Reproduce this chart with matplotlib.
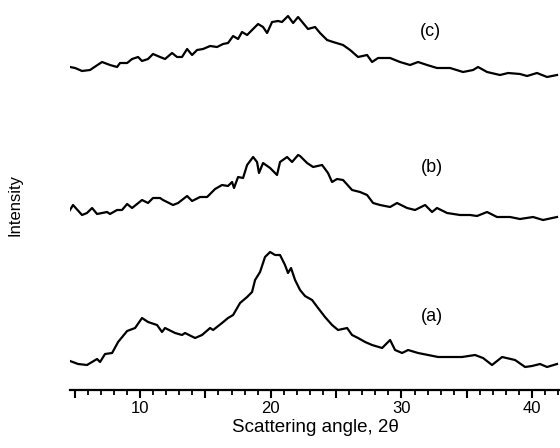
import matplotlib
matplotlib.use('Agg')
import matplotlib.pyplot as plt
from matplotlib.ticker import MultipleLocator

# scattering angle (2 theta) and intensity (arbitrary, curves already offset)
angle_a = [4.64, 5.26, 5.94, 6.71, 6.94, 7.32, 7.86, 8.32, 9.01, 9.62, 10.15, 10.61,
           11.30, 11.68, 11.91, 12.68, 13.21, 13.44, 14.21, 14.74, 15.36, 15.59, 16.27,
           16.73, 17.12, 17.65, 18.19, 18.57, 18.80, 19.18, 19.56, 19.95, 20.33, 20.71,
           21.09, 21.32, 21.55, 21.86, 22.24, 22.62, 23.16, 23.62, 24.15, 24.69, 25.15,
           25.84, 26.22, 26.68, 27.22, 27.75, 28.52, 29.13, 29.51, 30.05, 30.51, 31.27,
           32.04, 32.80, 33.87, 34.64, 35.63, 36.24, 36.93, 37.70, 38.69, 39.46, 39.99,
           40.60, 41.14, 41.90]
int_a = [29, 26, 25, 31, 28, 36, 37, 48, 59, 62, 72, 68,
         65, 58, 62, 57, 55, 57, 52, 55, 62, 60, 67,
         72, 75, 87, 93, 98, 110, 118, 133, 138, 135, 135,
         125, 117, 122, 110, 100, 94, 90, 82, 73, 65, 60,
         62, 55, 52, 48, 45, 42, 50, 40, 37, 40, 37,
         35, 33, 33, 33, 35, 32, 25, 33, 30, 23, 24,
         26, 23, 26]

angle_b = [4.64, 4.87, 5.56, 5.94, 6.33, 6.71, 7.48, 7.70, 8.24, 8.62, 9.01, 9.39,
           10.15, 10.61, 10.99, 11.53, 11.76, 12.52, 12.91, 13.60, 13.98, 14.59, 15.13,
           15.74, 16.27, 16.73, 17.04, 17.19, 17.50, 17.88, 18.19, 18.65, 18.95, 19.10,
           19.41, 19.95, 20.48, 20.71, 21.25, 21.63, 22.09, 22.24, 22.78, 23.24, 23.93,
           24.38, 24.69, 25.07, 25.53, 26.22, 26.83, 27.37, 27.83, 28.36, 29.13, 29.66,
           30.43, 31.04, 31.81, 32.34, 32.72, 33.49, 34.48, 35.25, 35.78, 36.55, 37.31,
           38.31, 39.07, 40.07, 40.83, 41.90]
int_b = [180, 185, 175, 177, 182, 176, 178, 176, 180, 180, 186, 182,
         190, 187, 192, 192, 190, 185, 187, 194, 189, 193, 193,
         201, 205, 204, 208, 202, 213, 212, 225, 233, 228, 217,
         227, 222, 215, 228, 233, 228, 235, 234, 227, 223, 225,
         217, 208, 211, 210, 200, 198, 195, 187, 185, 183, 187,
         182, 180, 185, 178, 182, 177, 175, 175, 174, 178, 173,
         173, 171, 173, 170, 173]

angle_c = [4.64, 5.03, 5.56, 6.17, 6.40, 7.09, 7.70, 8.24, 8.47, 9.01, 9.39, 9.85,
           10.15, 10.61, 10.99, 11.53, 11.91, 12.45, 12.83, 13.21, 13.60, 13.98, 14.36,
           14.82, 15.36, 15.89, 16.35, 16.73, 17.12, 17.50, 17.80, 18.19, 18.57, 19.03,
           19.41, 19.72, 20.10, 20.56, 20.86, 21.32, 21.71, 22.09, 22.47, 22.85, 23.39,
           23.77, 24.31, 24.77, 25.53, 26.07, 26.68, 27.37, 27.75, 28.21, 29.13, 29.89,
           30.66, 31.27, 31.96, 32.72, 33.72, 34.71, 35.48, 35.86, 36.55, 37.54, 38.16,
           39.07, 39.61, 40.37, 41.14, 41.90]
int_c = [323, 322, 319, 320, 322, 328, 325, 323, 327, 327, 331, 333,
         329, 331, 336, 333, 331, 337, 333, 333, 341, 335, 340,
         341, 344, 343, 346, 347, 354, 351, 358, 355, 360, 366,
         363, 357, 368, 369, 368, 374, 367, 373, 367, 361, 363,
         357, 350, 348, 345, 340, 333, 335, 328, 332, 332, 328,
         325, 328, 325, 322, 322, 318, 320, 323, 318, 315, 317,
         316, 314, 317, 313, 315]

curve_labels = ['(a)', '(b)', '(c)']
label_pos = [(32.3, 74), (32.3, 222), (32.2, 358)]

plt.rcParams['font.family'] = ['Liberation Sans', 'DejaVu Sans']

fig = plt.figure(figsize=(5.6, 4.48), dpi=100)
ax = fig.add_axes([70 / 560, 1 - 390 / 448, 490 / 560, 390 / 448])

for xs, ys in [(angle_a, int_a), (angle_b, int_b), (angle_c, int_c)]:
    ax.plot(xs, ys, color='black', lw=1.6)

for lab, (x, y) in zip(curve_labels, label_pos):
    ax.text(x, y, lab, fontsize=13, ha='center', va='center')

ax.set_xlim(4.64, 42.13)
ax.set_ylim(0, 390)

for s in ['top', 'left', 'right']:
    ax.spines[s].set_visible(False)
ax.spines['bottom'].set_linewidth(1.6)
ax.set_yticks([])

ax.xaxis.set_major_locator(MultipleLocator(5))
ax.xaxis.set_minor_locator(MultipleLocator(1))
ax.xaxis.set_major_formatter(lambda v, p: '%d' % v if v % 10 == 0 else '')
ax.tick_params(axis='x', which='major', length=6, width=1.5, labelsize=12, pad=2)
ax.tick_params(axis='x', which='minor', length=3.5, width=1.3)

ax.set_xlabel('Scattering angle, 2\u03b8', fontsize=13.5, labelpad=2)
fig.text(15 / 560, 1 - 205 / 448, 'Intensity', rotation=90, fontsize=12,
         ha='center', va='center')

fig.savefig('out.png', dpi=100)
